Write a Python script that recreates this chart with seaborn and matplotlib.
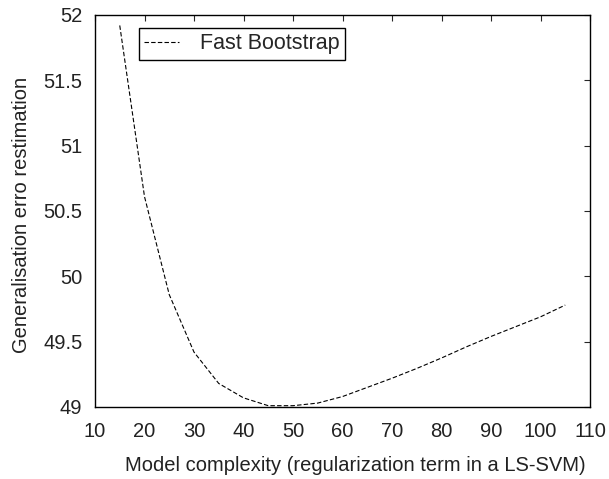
"""
Fast Bootstrap generalisation error vs model complexity
"""
import pandas as pd
import matplotlib
matplotlib.use("Agg")
import matplotlib.pyplot as plt
import seaborn as sns

# Values
complexity = [15, 20, 25, 30, 35, 40, 45, 50, 55, 60, 65, 70, 75, 80, 85, 90, 95, 100, 105]
error = [51.92, 50.61, 49.86, 49.42, 49.18, 49.07, 49.01, 49.01, 49.03, 49.08,
         49.15, 49.22, 49.295, 49.375, 49.46, 49.54, 49.615, 49.69, 49.78]
x_ticks = [10, 20, 30, 40, 50, 60, 70, 80, 90, 100, 110]
y_ticks = [49, 49.5, 50, 50.5, 51, 51.5, 52]
y_tick_labels = ["49", "49.5", "50", "50.5", "51", "51.5", "52"]

df = pd.DataFrame({"complexity": complexity, "error": error})

sns.set_style("white")
plt.rcParams["font.family"] = ["Liberation Sans", "DejaVu Sans"]

fig = plt.figure(figsize=(6.09, 4.79), dpi=100)
# axes box: left 95px, right 590px, top 15px, bottom 407px
ax = fig.add_axes([95 / 609, 1 - 407 / 479, 495 / 609, 392 / 479])

sns.lineplot(data=df, x="complexity", y="error", ax=ax, color="black",
             linewidth=0.8, linestyle=(0, (4, 2)), label="Fast Bootstrap")

ax.set_xlim(10, 110)
ax.set_ylim(49, 52)
ax.set_xticks(x_ticks)
ax.set_yticks(y_ticks)
ax.set_yticklabels(y_tick_labels)
ax.tick_params(direction="in", top=True, right=True, length=4, width=0.8,
               labelsize=14.5, labelcolor="#222222")
ax.tick_params(axis="x", pad=11)
ax.tick_params(axis="y", pad=9)
for spine in ax.spines.values():
    spine.set_color("black")
    spine.set_linewidth(1.0)

ax.set_xlabel("Model complexity (regularization term in a LS-SVM)", fontsize=14.5,
              color="#222222")
ax.set_ylabel("Generalisation erro restimation", fontsize=14.5, color="#222222")
ax.xaxis.set_label_coords(0.525, -0.125)
ax.yaxis.set_label_coords(-0.13, 0.49)

leg = ax.legend(loc="upper left", bbox_to_anchor=(0.089, 0.967), fontsize=15.5,
                fancybox=False, framealpha=1, edgecolor="black",
                handlelength=1.6, handletextpad=1.0, borderpad=0.25,
                borderaxespad=0)
leg.get_frame().set_linewidth(1.0)

fig.savefig("out.png", dpi=100)
